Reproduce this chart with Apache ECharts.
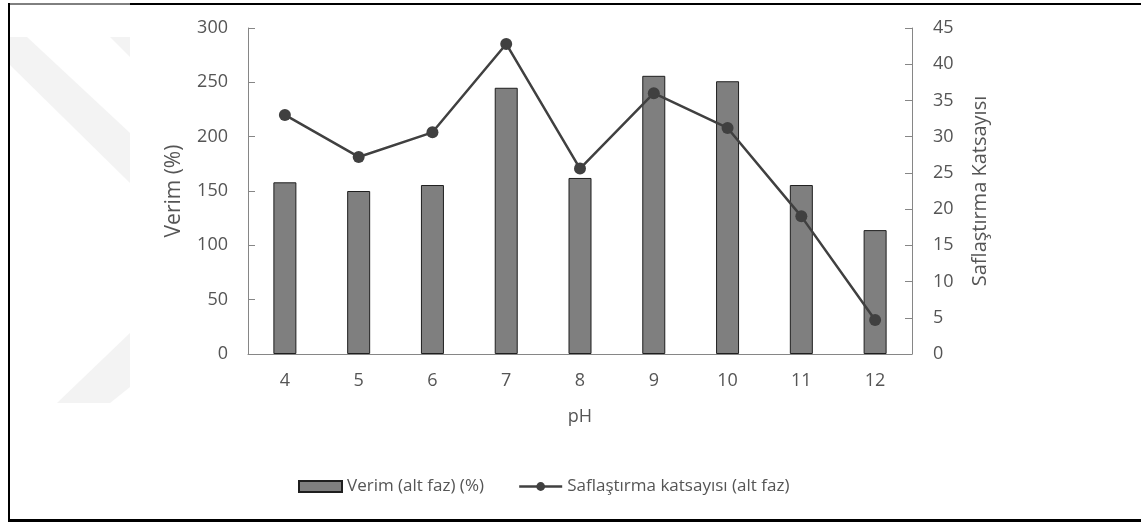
<!DOCTYPE html>
<html>
<head>
<meta charset="utf-8">
<script src="https://cdn.jsdelivr.net/npm/echarts@6/dist/echarts.min.js"></script>
<style>
  html, body { margin: 0; padding: 0; background: #ffffff; }
  #chart { width: 1141px; height: 526px; }
</style>
</head>
<body>
<div id="chart"></div>
<script>
// pH values on the category axis
const categories = ['4', '5', '6', '7', '8', '9', '10', '11', '12'];
// Verim (alt faz) (%) — left axis, bars
const verim = [158, 150, 155.5, 245, 162, 256, 251, 155.5, 114];
// Saflaştırma katsayısı (alt faz) — right axis, line
const saflastirma = [33.0, 27.2, 30.6, 42.8, 25.6, 36.0, 31.2, 19.0, 4.7];
// Axis tick settings
const leftTicks = { min: 0, max: 300, interval: 50 };
const rightTicks = { min: 0, max: 45, interval: 5 };

const FONT = 'Open Sans';
const TEXT = '#555555';
const AXIS = '#868686';

const chart = echarts.init(document.getElementById('chart'), null, { renderer: 'canvas' });

chart.setOption({
  backgroundColor: '#ffffff',
  animation: false,
  textStyle: { fontFamily: FONT, color: TEXT },
  grid: { left: 248, right: 229, top: 28, bottom: 172, containLabel: false },
  legend: {
    left: 293,
    top: 473,
    itemGap: 34,
    itemWidth: 43,
    itemHeight: 11,
    textStyle: { fontFamily: FONT, fontSize: 17, color: TEXT },
    data: [
      { name: 'Verim (alt faz) (%)', icon: 'rect' },
      { name: 'Saflaştırma katsayısı (alt faz)', lineStyle: { width: 2.5, color: '#404040' } }
    ]
  },
  xAxis: {
    type: 'category',
    data: categories,
    name: 'pH',
    nameLocation: 'middle',
    nameGap: 54,
    nameTextStyle: { fontFamily: FONT, fontSize: 18, color: TEXT },
    axisLine: { lineStyle: { color: AXIS, width: 1 } },
    axisTick: { show: false },
    axisLabel: { margin: 18, fontFamily: FONT, fontSize: 18, color: TEXT },
    splitLine: { show: false }
  },
  yAxis: [
    {
      type: 'value',
      min: leftTicks.min, max: leftTicks.max, interval: leftTicks.interval,
      name: 'Verim (%)',
      nameLocation: 'middle',
      nameGap: 63,
      nameTextStyle: { fontFamily: FONT, fontSize: 21, color: TEXT },
      axisLine: { show: true, lineStyle: { color: AXIS, width: 1 } },
      axisTick: { show: true, inside: true, length: 7, lineStyle: { color: AXIS } },
      axisLabel: { margin: 20, fontFamily: FONT, fontSize: 18, color: TEXT },
      splitLine: { show: false }
    },
    {
      type: 'value',
      position: 'right',
      min: rightTicks.min, max: rightTicks.max, interval: rightTicks.interval,
      name: 'Saflaştırma Katsayısı',
      nameLocation: 'middle',
      nameGap: 58,
      nameTextStyle: { fontFamily: FONT, fontSize: 20, color: TEXT },
      axisLine: { show: true, lineStyle: { color: AXIS, width: 1 } },
      axisTick: { show: true, inside: true, length: 7, lineStyle: { color: AXIS } },
      axisLabel: { margin: 21, fontFamily: FONT, fontSize: 18, color: TEXT },
      splitLine: { show: false }
    }
  ],
  series: [
    {
      name: 'Verim (alt faz) (%)',
      type: 'bar',
      yAxisIndex: 0,
      data: verim,
      barWidth: 23,
      itemStyle: { color: '#7f7f7f', borderColor: '#1f1f1f', borderWidth: 1 }
    },
    {
      name: 'Saflaştırma katsayısı (alt faz)',
      type: 'line',
      yAxisIndex: 1,
      data: saflastirma,
      symbol: 'circle',
      symbolSize: 12,
      lineStyle: { color: '#404040', width: 2.5 },
      itemStyle: { color: '#404040' },
      z: 3
    }
  ],
  graphic: [
    // faint background emblem on the left margin
    {
      type: 'polygon', z: -10, silent: true,
      shape: { points: [[9, 37], [27, 37], [130, 133], [130, 183], [9, 64]] },
      style: { fill: '#f3f3f3' }
    },
    {
      type: 'polygon', z: -10, silent: true,
      shape: { points: [[110, 37], [130, 37], [130, 57]] },
      style: { fill: '#f3f3f3' }
    },
    {
      type: 'polygon', z: -10, silent: true,
      shape: { points: [[130, 333], [130, 387], [110, 403], [57, 403]] },
      style: { fill: '#f3f3f3' }
    },
    // page frame
    {
      type: 'line', silent: true,
      shape: { x1: 9, y1: 4, x2: 130, y2: 4 },
      style: { stroke: '#000000', lineWidth: 1 }
    },
    {
      type: 'line', silent: true,
      shape: { x1: 130, y1: 4, x2: 1141, y2: 4 },
      style: { stroke: '#000000', lineWidth: 2 }
    },
    {
      type: 'line', silent: true,
      shape: { x1: 9, y1: 3, x2: 9, y2: 522 },
      style: { stroke: '#000000', lineWidth: 2 }
    },
    {
      type: 'line', silent: true,
      shape: { x1: 8, y1: 520.5, x2: 1141, y2: 520.5 },
      style: { stroke: '#000000', lineWidth: 3 }
    }
  ]
});
</script>
</body>
</html>
